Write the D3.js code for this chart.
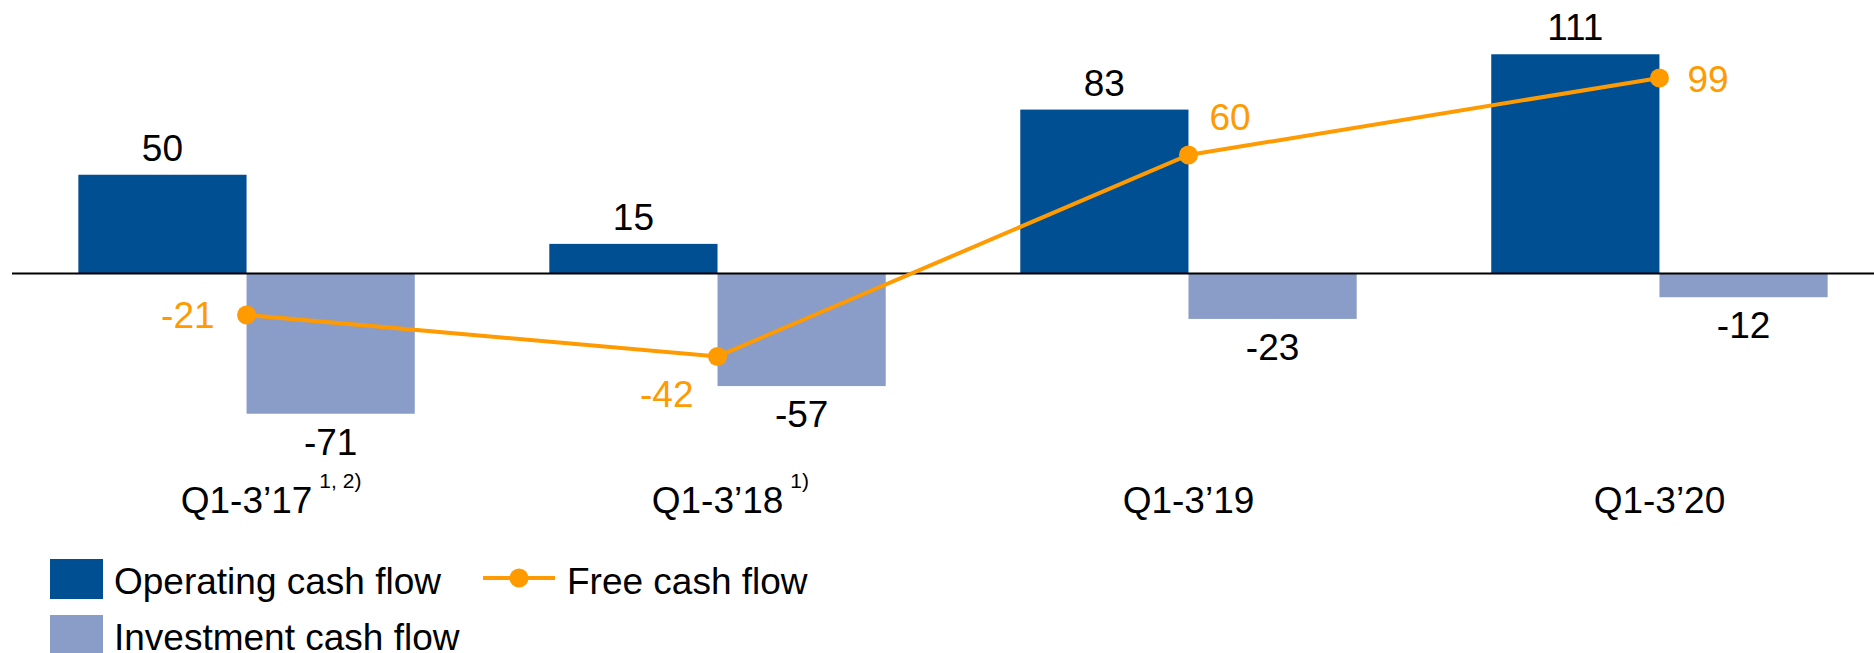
<!DOCTYPE html>
<html lang="en">
<head>
  <meta charset="utf-8">
  <title>Cash flow</title>
  <script src="https://d3js.org/d3.v7.min.js"></script>
</head>
<style>
  body { margin: 0; background: #fff; }
  text { font-family: "Liberation Sans", Arial, sans-serif; }
</style>
<body>
  <div class="chart"></div>
</body>
<script>
// chart values
var categories = ["Q1-3\u201917", "Q1-3\u201918", "Q1-3\u201919", "Q1-3\u201920"];
var footnotes = ["1, 2)", "1)", "", ""];
var operating = [50, 15, 83, 111];
var investment = [-71, -57, -23, -12];
var freeCash = [-21, -42, 60, 99];

var width = 1874, height = 653;
var darkBlue = "#004F93", lightBlue = "#8A9CC8", orange = "#FF9A00";

var svg = d3.select(".chart")
  .append("svg")
  .attr("width", width)
  .attr("height", height);

var x0 = d3.scaleBand()
  .domain(categories)
  .range([11, 1895])
  .paddingInner(0.2857)
  .paddingOuter(0.143);

var x1 = d3.scaleBand()
  .domain(["op", "inv"])
  .range([0, x0.bandwidth()]);

var y = d3.scaleLinear()
  .domain([-100, 100])
  .range([471, 76]);

var rows = categories.map(function(c, i) {
  return {cat: c, op: operating[i], inv: investment[i], fcf: freeCash[i], note: footnotes[i]};
});

// bars
var groups = svg.selectAll(".group")
  .data(rows)
  .enter().append("g")
  .attr("class", "group")
  .attr("transform", function(d) { return "translate(" + x0(d.cat) + ",0)"; });

groups.append("rect")
  .attr("x", x1("op"))
  .attr("width", x1.bandwidth())
  .attr("y", function(d) { return y(d.op); })
  .attr("height", function(d) { return y(0) - y(d.op); })
  .style("fill", darkBlue);

groups.append("rect")
  .attr("x", x1("inv"))
  .attr("width", x1.bandwidth())
  .attr("y", y(0))
  .attr("height", function(d) { return y(d.inv) - y(0); })
  .style("fill", lightBlue);

// value labels
groups.append("text")
  .attr("x", x1("op") + x1.bandwidth() / 2)
  .attr("y", function(d) { return y(d.op) - 14; })
  .attr("text-anchor", "middle")
  .style("font-size", "37px")
  .text(function(d) { return d.op; });

groups.append("text")
  .attr("x", x1("inv") + x1.bandwidth() / 2)
  .attr("y", function(d) { return y(d.inv) + 41; })
  .attr("text-anchor", "middle")
  .style("font-size", "37px")
  .text(function(d) { return d.inv; });

// zero line
svg.append("line")
  .attr("x1", 12)
  .attr("x2", width)
  .attr("y1", y(0))
  .attr("y2", y(0))
  .style("stroke", "#000")
  .style("stroke-width", 2.2);

// category labels
var catLabels = groups.append("g")
  .attr("transform", "translate(" + (x0.bandwidth() / 2) + ",513)");

catLabels.append("text")
  .attr("class", "cat")
  .attr("text-anchor", "middle")
  .style("font-size", "37px")
  .text(function(d) { return d.cat; });

catLabels.append("text")
  .attr("x", function(d) {
    var w = d3.select(this.parentNode).select(".cat").node().getComputedTextLength();
    return w / 2 + 7;
  })
  .attr("y", -25)
  .style("font-size", "21px")
  .text(function(d) { return d.note; });

// free cash flow line
var cx = function(d) { return x0(d.cat) + x0.bandwidth() / 2; };

var line = d3.line()
  .x(cx)
  .y(function(d) { return y(d.fcf); });

svg.append("path")
  .datum(rows)
  .attr("d", line)
  .style("fill", "none")
  .style("stroke", orange)
  .style("stroke-width", 4);

svg.selectAll(".dot")
  .data(rows)
  .enter().append("circle")
  .attr("class", "dot")
  .attr("cx", cx)
  .attr("cy", function(d) { return y(d.fcf); })
  .attr("r", 9.5)
  .style("fill", orange);

// label placement for the line points: [dx, dy, anchor]
var fcfPlace = [[-32, 13, "end"], [-24, 51, "end"], [21, -25, "start"], [28, 14, "start"]];

svg.selectAll(".fcfLabel")
  .data(rows)
  .enter().append("text")
  .attr("class", "fcfLabel")
  .attr("x", function(d, i) { return cx(d) + fcfPlace[i][0]; })
  .attr("y", function(d, i) { return y(d.fcf) + fcfPlace[i][1]; })
  .attr("text-anchor", function(d, i) { return fcfPlace[i][2]; })
  .style("font-size", "37px")
  .style("fill", orange)
  .text(function(d) { return d.fcf; });

// legend
var legend = svg.append("g");

legend.append("rect")
  .attr("x", 50).attr("y", 559).attr("width", 53).attr("height", 40)
  .style("fill", darkBlue);
legend.append("text")
  .attr("x", 114).attr("y", 594)
  .style("font-size", "37px")
  .text("Operating cash flow");

legend.append("rect")
  .attr("x", 50).attr("y", 615).attr("width", 53).attr("height", 40)
  .style("fill", lightBlue);
legend.append("text")
  .attr("x", 114).attr("y", 650)
  .style("font-size", "37px")
  .text("Investment cash flow");

legend.append("line")
  .attr("x1", 483).attr("x2", 555).attr("y1", 578).attr("y2", 578)
  .style("stroke", orange)
  .style("stroke-width", 4);
legend.append("circle")
  .attr("cx", 519).attr("cy", 578).attr("r", 9.5)
  .style("fill", orange);
legend.append("text")
  .attr("x", 567).attr("y", 594)
  .style("font-size", "37px")
  .text("Free cash flow");
</script>
</html>
